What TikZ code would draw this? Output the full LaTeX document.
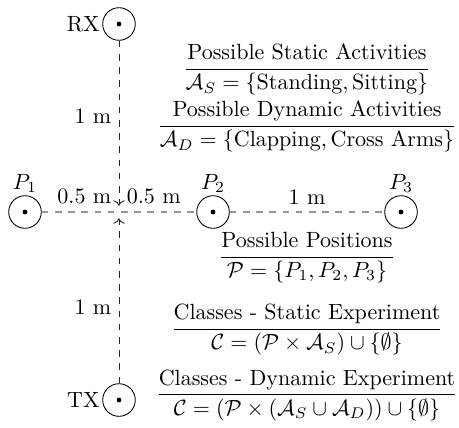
\documentclass[tikz,border=0pt]{standalone}
\usepackage{amsmath,amssymb}
\usepackage{tikz}
\usetikzlibrary{positioning,calc,arrows.meta}
\definecolor{LineGray}{RGB}{150,150,150}

\begin{document}
\begin{tikzpicture}[
    font=\normalsize,
    sensor/.style={
        circle,
        draw,
        inner sep=0pt,
        minimum size=0.52cm,
        path picture={\fill (path picture bounding box.center) circle (1.1pt);}
    },
    tag/.style={
        inner sep=1pt
    },
    vline/.style={
        ->,
        dashed,
        draw=black!85
    },
    hline/.style={
        dashed,
        semithick,
        draw=LineGray
    },
    info/.style={
        align=center
    }
]
\useasboundingbox (-1.899,-3.431) rectangle (5.425,3.383);

% center crossing
\coordinate (mid) at (0,0);
\coordinate (midtop) at (0,0.1);
\coordinate (midbot) at (0,-0.1);

% =========================
% antennas
% =========================
\node[sensor] (rx) at (0,3) {};
\node[sensor] (tx) at (0,-3) {};
\node[tag, left=0pt of rx] (rxlabel) {RX};
\node[tag, left=0pt of tx] (txlabel) {TX};

\draw[vline] (rx.south) -- node[left, pos=0.46] (dup) {1 m} (midtop);
\draw[vline] (tx.north) -- node[left, pos=0.46] (ddown) {1 m} (midbot);

% =========================
% positions
% =========================
\node[sensor] (p1) at (-1.5,0) {};
\node[sensor] (p2) at (1.5,0) {};
\node[sensor] (p3) at (4.5,0) {};
\node[tag, above=0pt of p1] (p1label) {$P_1$};
\node[tag, above=0pt of p2] (p2label) {$P_2$};
\node[tag, above=0pt of p3] (p3label) {$P_3$};

\draw[hline] (p1.east) -- (p2.west);
\draw[hline] (p2.east) -- node[above] (d23) {1 m} (p3.west);

\node[above left] (dleft) at (mid) {0.5 m};
\node[above right] (dright) at (mid) {0.5 m};

% =========================
% sets and classes
% =========================
\node[info] (static) at (3,2.27)
    {$\dfrac{\text{Possible Static Activities}}{\mathcal{A}_S = \{\text{Standing}, \text{Sitting}\}}$};
\node[info] (dynamic) at (3,1.36)
    {$\dfrac{\text{Possible Dynamic Activities}}{\mathcal{A}_D = \{\text{Clapping}, \text{Cross Arms}\}}$};
\node[info] (positions) at (3,-0.73)
    {$\dfrac{\text{Possible Positions}}{\mathcal{P} = \{P_1, P_2, P_3\}}$};
\node[info] (clstatic) at (3,-1.88)
    {$\dfrac{\text{Classes - Static Experiment}}{\mathcal{C} = (\mathcal{P} \times \mathcal{A}_S) \cup \{\emptyset\}}$};
\node[info] (cldynamic) at (3,-2.92)
    {$\dfrac{\text{Classes - Dynamic Experiment}}{\mathcal{C} = (\mathcal{P} \times (\mathcal{A}_S \cup \mathcal{A}_D)) \cup \{\emptyset\}}$};

\end{tikzpicture}
\end{document}
